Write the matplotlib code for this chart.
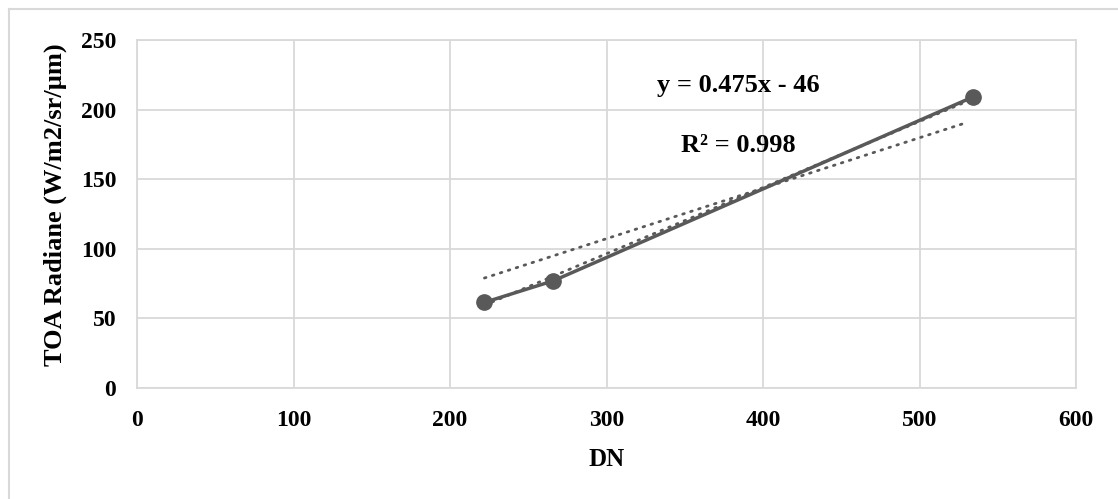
import matplotlib
matplotlib.use('Agg')
import matplotlib.pyplot as plt
from matplotlib.lines import Line2D

# data
dn = [222, 266, 534]
radiance = [61.5, 77, 209]

# linear trendline y = 0.475x - 46
fit_slope = 0.475
fit_icept = -46
fit_x = [222, 534]

# second dotted trend
trend2_x = [222, 531]
trend2_y = [79, 191]

xticks = [0, 100, 200, 300, 400, 500, 600]
yticks = [0, 50, 100, 150, 200, 250]

grey = '#595959'
grid = '#d9d9d9'

plt.rcParams['font.family'] = ['Liberation Serif', 'DejaVu Serif']
plt.rcParams['font.weight'] = 'bold'

fig = plt.figure(figsize=(11.18, 4.99), dpi=100)
ax = fig.add_axes([137/1118, 1 - 388/499, (1076-137)/1118, (388-40)/499])

# frame of the chart area (only top and left edges show)
fig.add_artist(Line2D([9/1118, 1], [1 - 9/499, 1 - 9/499], color=grid, lw=1.5))
fig.add_artist(Line2D([9/1118, 9/1118], [1 - 9/499, 0], color=grid, lw=1.5))

fit_y = [fit_slope * x + fit_icept for x in fit_x]
ax.plot(trend2_x, trend2_y, color=grey, lw=2, linestyle=(0, (0.6, 2.4)), dash_capstyle='round', zorder=3)
ax.plot(fit_x, fit_y, color=grey, lw=2, linestyle=(0, (0.6, 2.4)), dash_capstyle='round', zorder=3)
ax.plot(dn, radiance, color=grey, lw=2.5, marker='o', markersize=11, zorder=4)

ax.set_xlim(0, 600)
ax.set_ylim(0, 250)
ax.set_xticks(xticks)
ax.set_yticks(yticks)
ax.grid(True, color=grid, lw=1.3)
ax.set_axisbelow(True)
for s in ax.spines.values():
    s.set_color(grid)
    s.set_linewidth(1.3)
ax.tick_params(length=0, labelsize=17)
ax.tick_params(axis='x', pad=16)
ax.tick_params(axis='y', pad=15)
for lab in ax.get_xticklabels() + ax.get_yticklabels():
    lab.set_fontweight('bold')

ax.set_xlabel('DN', fontsize=18, fontweight='bold', labelpad=12)
ax.set_ylabel('TOA Radiane (W/m2/sr/µm)', fontsize=19, fontweight='bold', labelpad=10)
ax.yaxis.set_label_coords(-0.075, 0.526)

ax.text(384, 217.5, 'y = 0.475x - 46', fontsize=19, fontweight='bold', ha='center', va='center')
ax.text(384, 174.5, 'R² = 0.998', fontsize=19, fontweight='bold', ha='center', va='center')

fig.savefig('out.png', dpi=100)
plt.close()
